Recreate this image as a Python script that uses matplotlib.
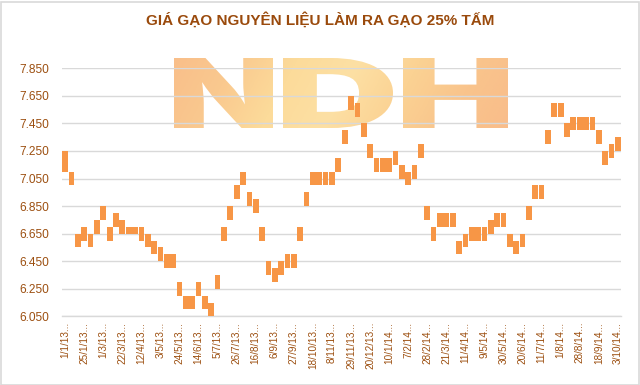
import numpy as np
import matplotlib
matplotlib.use("Agg")
import matplotlib.pyplot as plt
from matplotlib import font_manager
from matplotlib.textpath import TextPath
from matplotlib.patches import PathPatch, Rectangle
from matplotlib.font_manager import FontProperties
from matplotlib.transforms import Affine2D
from matplotlib.path import Path
from matplotlib.colors import LinearSegmentedColormap

# ---- data (weekly price range, VND/kg) ----
price_high = [7.25, 7.10, 6.65, 6.70, 6.65, 6.75, 6.85, 6.70, 6.80, 6.75,
              6.70, 6.70, 6.70, 6.65, 6.60, 6.55, 6.50, 6.50, 6.30, 6.20,
              6.20, 6.30, 6.20, 6.15, 6.35, 6.70, 6.85, 7.00, 7.10, 6.95,
              6.90, 6.70, 6.45, 6.40, 6.45, 6.50, 6.50, 6.70, 6.95, 7.10,
              7.10, 7.10, 7.10, 7.20, 7.40, 7.65, 7.60, 7.45, 7.30, 7.20,
              7.20, 7.20, 7.25, 7.15, 7.10, 7.15, 7.30, 6.85, 6.70, 6.80,
              6.80, 6.80, 6.60, 6.65, 6.70, 6.70, 6.70, 6.75, 6.80, 6.80,
              6.65, 6.60, 6.65, 6.85, 7.00, 7.00, 7.40, 7.60, 7.60, 7.45,
              7.50, 7.50, 7.50, 7.50, 7.40, 7.25, 7.30, 7.35]
price_low = [7.10, 7.00, 6.55, 6.60, 6.55, 6.65, 6.75, 6.60, 6.70, 6.65,
             6.65, 6.65, 6.60, 6.55, 6.50, 6.45, 6.40, 6.40, 6.20, 6.10,
             6.10, 6.20, 6.10, 6.05, 6.25, 6.60, 6.75, 6.90, 7.00, 6.85,
             6.80, 6.60, 6.35, 6.30, 6.35, 6.40, 6.40, 6.60, 6.85, 7.00,
             7.00, 7.00, 7.00, 7.10, 7.30, 7.55, 7.50, 7.35, 7.20, 7.10,
             7.10, 7.10, 7.15, 7.05, 7.00, 7.05, 7.20, 6.75, 6.60, 6.70,
             6.70, 6.70, 6.50, 6.55, 6.60, 6.60, 6.60, 6.65, 6.70, 6.70,
             6.55, 6.50, 6.55, 6.75, 6.90, 6.90, 7.30, 7.50, 7.50, 7.35,
             7.40, 7.40, 7.40, 7.40, 7.30, 7.15, 7.20, 7.25]
tick_labels = ["1/1/13...", "25/1/13...", "1/3/13...", "22/3/13...", "12/4/13...",
               "3/5/13...", "24/5/13...", "14/6/13...", "5/7/13...", "26/7/13...",
               "16/8/13...", "6/9/13...", "27/9/13...", "18/10/13...", "8/11/13...",
               "29/11/13...", "20/12/13...", "10/1/14...", "7/2/14...", "28/2/14...",
               "21/3/14...", "11/4/14...", "9/5/14...", "30/5/14...", "20/6/14...",
               "11/7/14...", "1/8/14...", "28/8/14...", "18/9/14...", "3/10/14..."]
y_ticks = [6.05, 6.25, 6.45, 6.65, 6.85, 7.05, 7.25, 7.45, 7.65, 7.85]
title = "GIÁ GẠO NGUYÊN LIỆU LÀM RA GẠO 25% TẤM"

fonts = font_manager.fontManager.ttflist
names = {f.name for f in fonts}
narrow = "Liberation Sans Narrow" if "Liberation Sans Narrow" in names else "Liberation Sans"
label_font = "Liberation Sans" if "Liberation Sans" in names else "DejaVu Sans"

# heaviest available font for the watermark
heavy = None
best_w = 0
for f in fonts:
    try:
        w = int(f.weight)
    except (TypeError, ValueError):
        w = {"black": 900, "heavy": 900, "extra bold": 800, "bold": 700}.get(str(f.weight), 400)
    if f.style == "normal" and w > best_w and f.name in ("Roboto", "Lato", "Inter", "Open Sans",
                                                         "Noto Sans", "DejaVu Sans", "Liberation Sans"):
        best_w = w
        heavy = f.fname
wm_prop = FontProperties(fname=heavy) if heavy else FontProperties(family="DejaVu Sans", weight="bold")

W, H = 640, 385
fig = plt.figure(figsize=(W / 100, H / 100), dpi=100)
fig.patch.set_facecolor("white")

# background axes in pixel coordinates for the watermark
bg = fig.add_axes([0, 0, 1, 1], zorder=0)
bg.set_xlim(0, W)
bg.set_ylim(0, H)
bg.axis("off")

letters = [("N", 174, 273), ("D", 283, 393), ("H", 403, 508)]
yb, yt = 257, 327
verts, codes = [], []
for ch, xa, xb in letters:
    tp = TextPath((0, 0), ch, size=100, prop=wm_prop)
    ext = tp.get_extents()
    tr = Affine2D().translate(-ext.x0, -ext.y0).scale((xb - xa) / ext.width,
                                                     (yt - yb) / ext.height).translate(xa, yb)
    p = tr.transform_path(tp)
    verts.append(p.vertices)
    codes.append(p.codes)
path = Path(np.concatenate(verts), np.concatenate(codes))
patch = PathPatch(path, facecolor="none", edgecolor="none")
bg.add_patch(patch)
cmap = LinearSegmentedColormap.from_list(
    "wm", ["#F9BF8A", "#FAC98F", "#FCDB9A", "#FDE0A4", "#FBD293", "#F9C48C", "#F9BD8A"])
gx = np.linspace(0, 1, 256)
gy = np.linspace(0, 1, 64)[:, None]
grad = gx[None, :] * 0.9 + 0.1 * (1 - gy)
im = bg.imshow(grad, cmap=cmap, extent=[174, 508, yb, yt], aspect="auto",
               interpolation="bilinear", origin="lower", vmin=0, vmax=1)
im.set_clip_path(patch)

# border of chart area
fig.add_artist(Rectangle((0.5 / W, 0.5 / H), 1 - 2 / W, 1 - 2 / H,
                         transform=fig.transFigure, fill=False,
                         edgecolor="#D9D9D9", linewidth=1.2))

# main axes
left, right = 62 / W, 621 / W
bottom, top = (H - 316.3) / H, (H - 68.3) / H
ax = fig.add_axes([left, bottom, right - left, top - bottom], zorder=1)
ax.patch.set_facecolor("none")

x = np.arange(len(price_high))
hi = np.array(price_high)
lo = np.array(price_low)
ax.bar(x, hi - lo, bottom=lo, width=0.9, color="#F79646", zorder=3)

ax.set_xlim(-0.5, len(x) - 0.5)
ax.set_ylim(6.05, 7.85)
ax.set_yticks(y_ticks)
ax.set_yticklabels([f"{v:.3f}" for v in y_ticks], fontsize=8.6,
                   color="#9C4F10", family=label_font)
ax.set_xticks(x[::3])
ax.set_xticklabels(tick_labels, rotation=90, fontsize=7.2, color="#9C4F10",
                   family=label_font, ha="center", va="top")
ax.tick_params(axis="both", length=0, pad=9)
ax.tick_params(axis="x", pad=4)
ax.yaxis.grid(True, color="#D9D9D9", linewidth=1.0, zorder=1)
ax.set_axisbelow(True)
for s in ["left", "right", "top"]:
    ax.spines[s].set_visible(False)
ax.spines["bottom"].set_color("#D9D9D9")
ax.spines["bottom"].set_linewidth(1.0)

fig.text(0.5, 1 - 20 / H, title, ha="center", va="center", fontsize=11,
         fontweight="bold", color="#9A4A0C", family=[narrow, "DejaVu Sans"])

fig.savefig("out.png", dpi=100)
